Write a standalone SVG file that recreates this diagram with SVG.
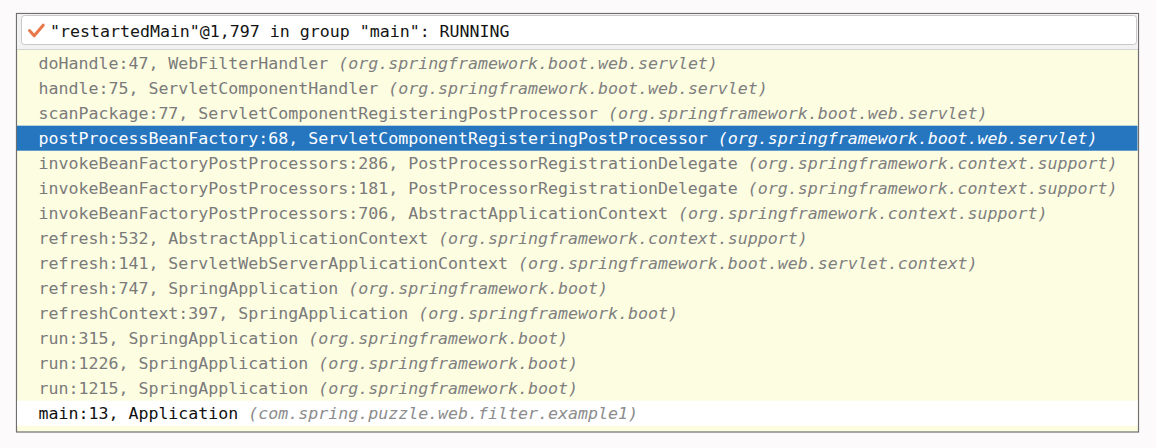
<svg xmlns="http://www.w3.org/2000/svg" width="1156" height="448" viewBox="0 0 1156 448">
<style>
.t{font-family:"DejaVu Sans Mono","Liberation Mono",monospace;font-size:16.6px;fill:#7a7a7a}
.p{font-style:italic;fill:#7f7f7f}
.sel .t,.sel .p{fill:#ffffff}
.cur .t{fill:#111111}
.cur .p{fill:#8c8c8c}
.hdr{font-family:"DejaVu Sans Mono","Liberation Mono",monospace;font-size:16.6px;fill:#141414}
</style>
<rect x="0" y="0" width="1156" height="448" fill="#fcfafb"/>
<g id="panel">
<rect x="16.5" y="13.5" width="1122" height="418.5" fill="#fdfde2" stroke="#6f6f6f" stroke-width="1.2"/>
<rect x="17" y="14" width="1121" height="36" fill="#f2f2f2"/>
<line x1="17" y1="49.5" x2="1138" y2="49.5" stroke="#d4d4d4" stroke-width="1"/>
</g>
<g id="header">
<rect x="21.5" y="15.5" width="1115" height="29" rx="3" fill="#ffffff" stroke="#c9c9c9" stroke-width="1"/>
<path d="M29.5 30.5 L34.2 35.8 L43.2 25.2" fill="none" stroke="#e8784a" stroke-width="3" stroke-linecap="round" stroke-linejoin="round"/>
<text class="hdr" x="50" y="36.5">"restartedMain"@1,797 in group "main": RUNNING</text>
</g>
<g id="frame1"><text class="t" x="38.5" y="69">doHandle:47, WebFilterHandler <tspan class="p">(org.springframework.boot.web.servlet)</tspan></text></g>
<g id="frame2"><text class="t" x="38.5" y="94">handle:75, ServletComponentHandler <tspan class="p">(org.springframework.boot.web.servlet)</tspan></text></g>
<g id="frame3"><text class="t" x="38.5" y="119">scanPackage:77, ServletComponentRegisteringPostProcessor <tspan class="p">(org.springframework.boot.web.servlet)</tspan></text></g>
<g id="frame4" class="sel"><rect x="17" y="125.7" width="1120.5" height="25" fill="#2675bf"/><text class="t" x="38.5" y="144">postProcessBeanFactory:68, ServletComponentRegisteringPostProcessor <tspan class="p">(org.springframework.boot.web.servlet)</tspan></text></g>
<g id="frame5"><text class="t" x="38.5" y="169">invokeBeanFactoryPostProcessors:286, PostProcessorRegistrationDelegate <tspan class="p">(org.springframework.context.support)</tspan></text></g>
<g id="frame6"><text class="t" x="38.5" y="194">invokeBeanFactoryPostProcessors:181, PostProcessorRegistrationDelegate <tspan class="p">(org.springframework.context.support)</tspan></text></g>
<g id="frame7"><text class="t" x="38.5" y="219">invokeBeanFactoryPostProcessors:706, AbstractApplicationContext <tspan class="p">(org.springframework.context.support)</tspan></text></g>
<g id="frame8"><text class="t" x="38.5" y="244">refresh:532, AbstractApplicationContext <tspan class="p">(org.springframework.context.support)</tspan></text></g>
<g id="frame9"><text class="t" x="38.5" y="269">refresh:141, ServletWebServerApplicationContext <tspan class="p">(org.springframework.boot.web.servlet.context)</tspan></text></g>
<g id="frame10"><text class="t" x="38.5" y="294">refresh:747, SpringApplication <tspan class="p">(org.springframework.boot)</tspan></text></g>
<g id="frame11"><text class="t" x="38.5" y="319">refreshContext:397, SpringApplication <tspan class="p">(org.springframework.boot)</tspan></text></g>
<g id="frame12"><text class="t" x="38.5" y="344">run:315, SpringApplication <tspan class="p">(org.springframework.boot)</tspan></text></g>
<g id="frame13"><text class="t" x="38.5" y="369">run:1226, SpringApplication <tspan class="p">(org.springframework.boot)</tspan></text></g>
<g id="frame14"><text class="t" x="38.5" y="394">run:1215, SpringApplication <tspan class="p">(org.springframework.boot)</tspan></text></g>
<g id="frame15" class="cur"><rect x="17" y="400.7" width="1120.5" height="25" fill="#ffffff"/><text class="t" x="38.5" y="419">main:13, Application <tspan class="p">(com.spring.puzzle.web.filter.example1)</tspan></text></g>
</svg>
